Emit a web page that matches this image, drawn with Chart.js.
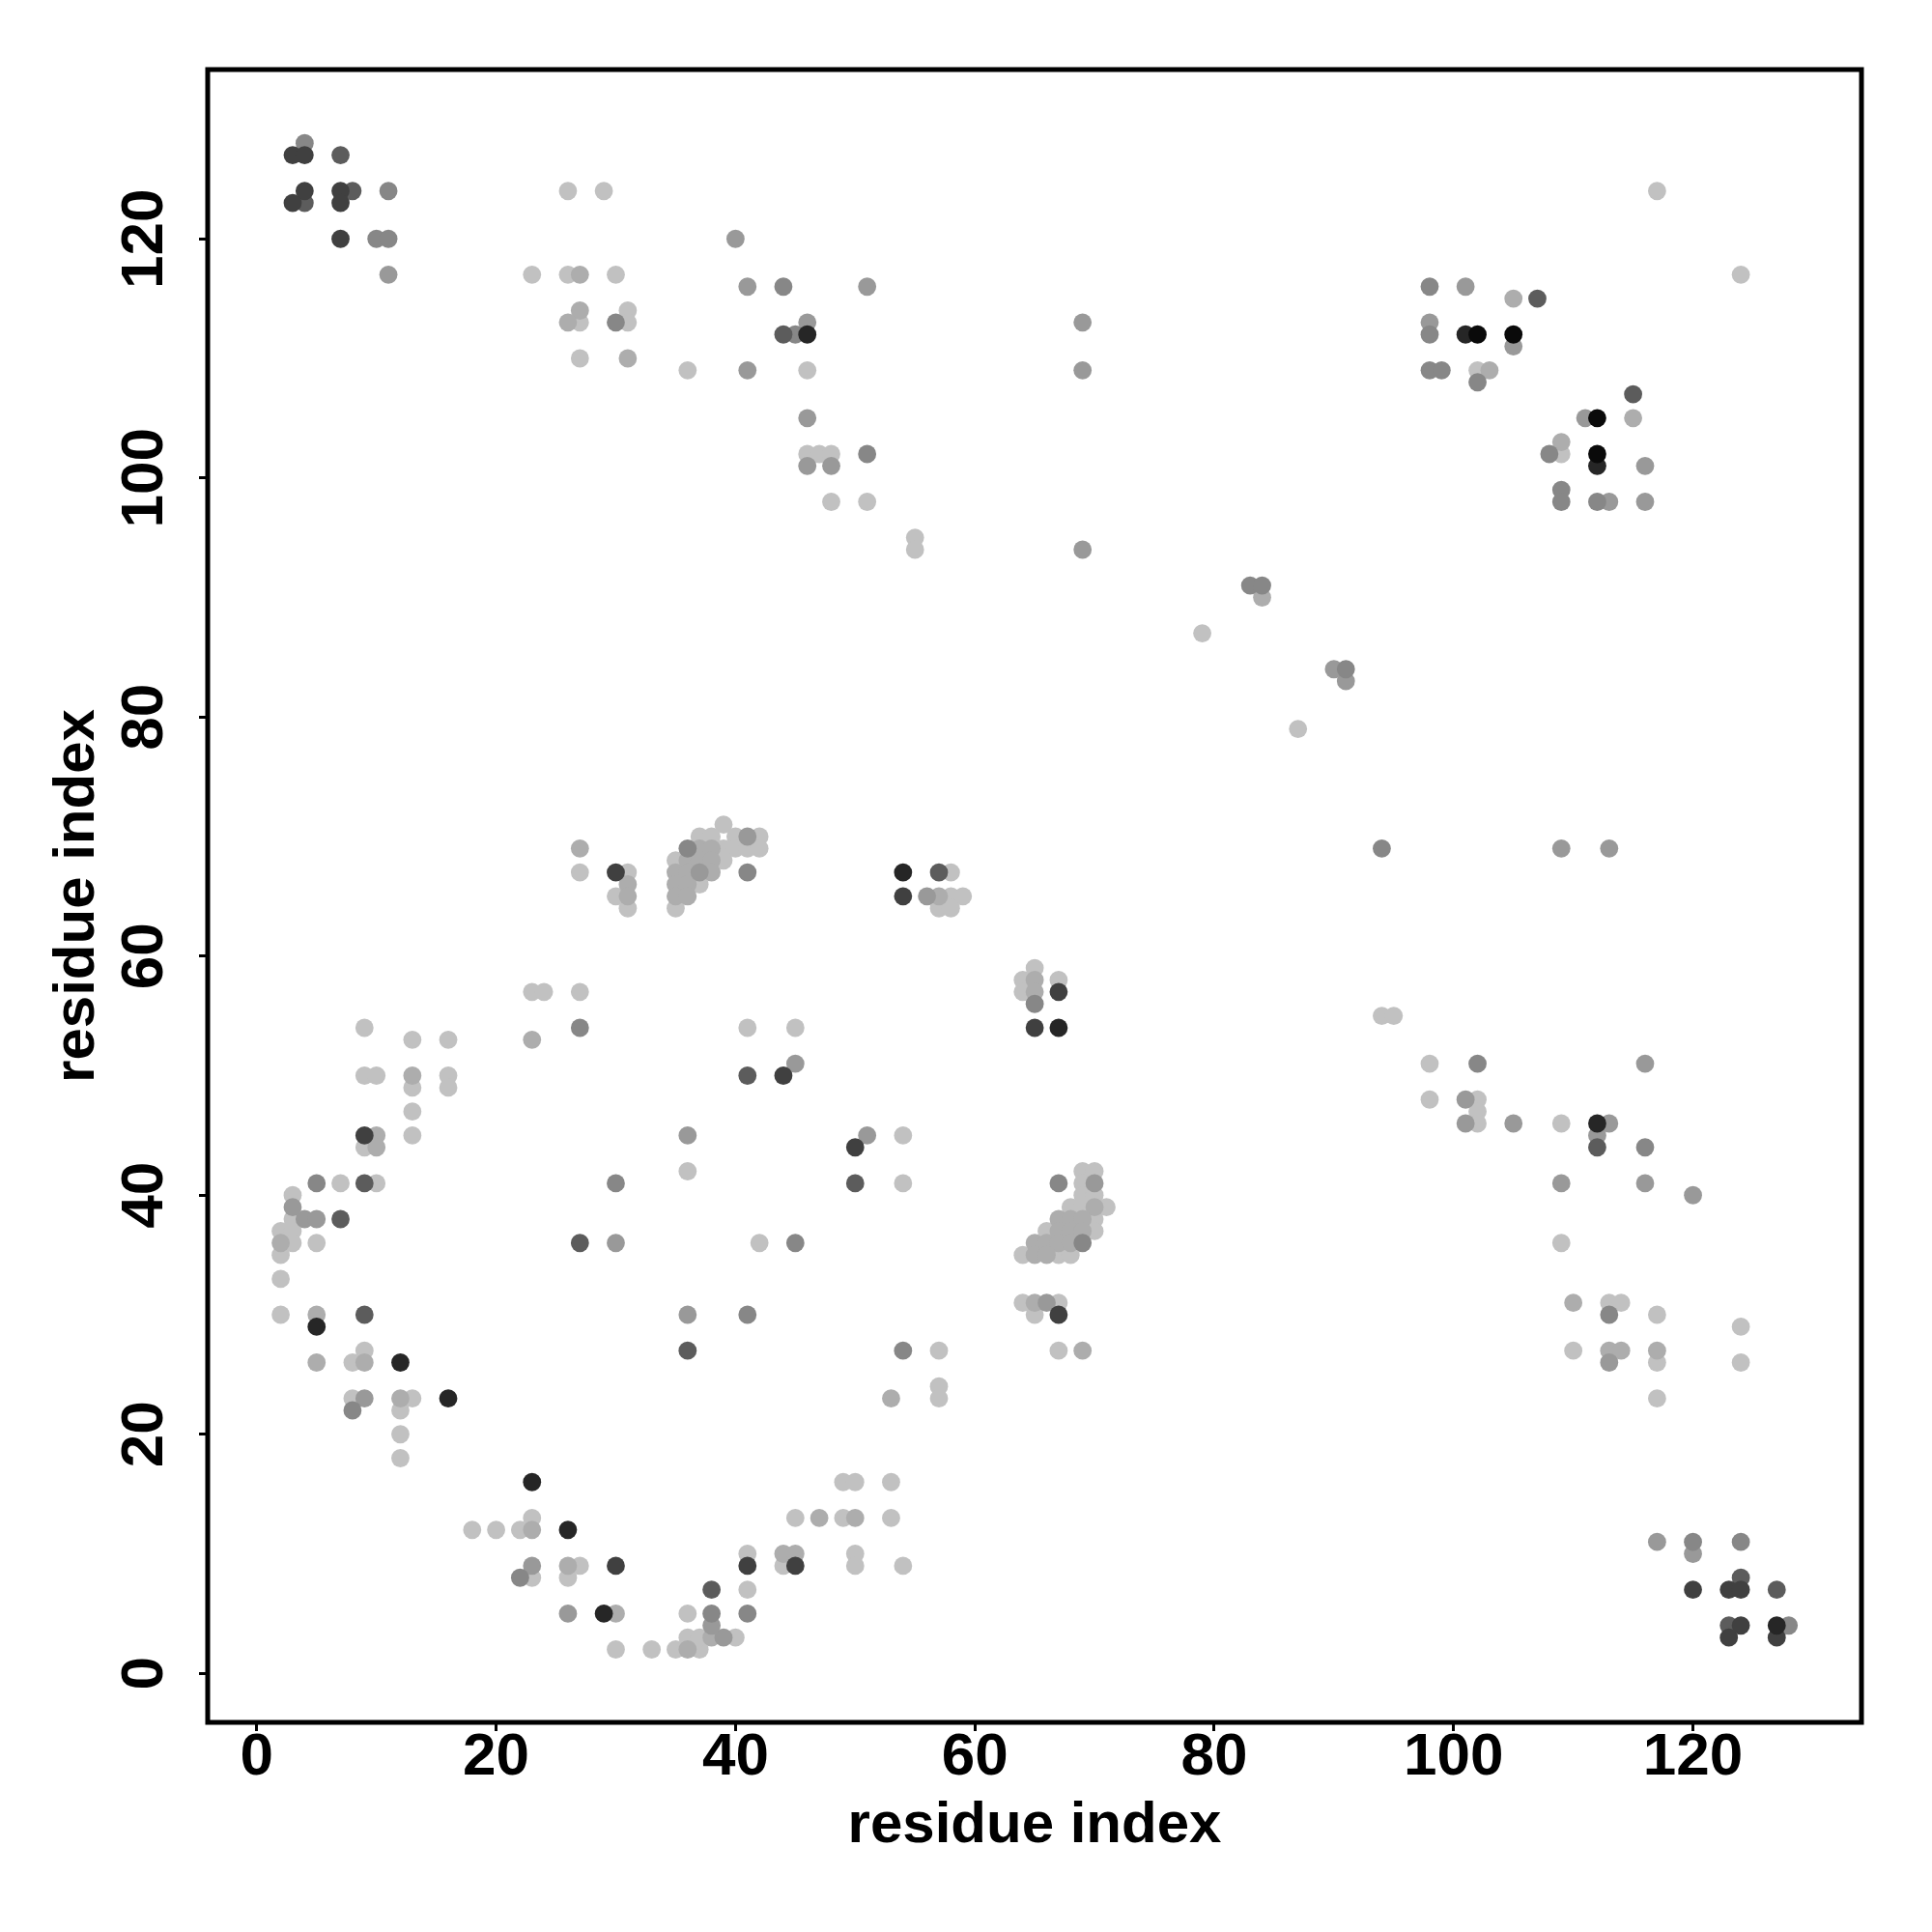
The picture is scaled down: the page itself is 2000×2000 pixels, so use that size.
<!DOCTYPE html>
<html>
<head>
<meta charset="utf-8">
<script src="https://cdn.jsdelivr.net/npm/chart.js@4.4.1/dist/chart.umd.min.js"></script>
<style>
  html, body { margin: 0; padding: 0; background: #fff; }
</style>
</head>
<body>
<canvas id="contactMap" width="2000" height="2000"></canvas>
<script>
// residue contact map, points grouped by grey level (darkest first)
var tickValues = [0, 20, 40, 60, 80, 100, 120];
var axisTitle = "residue index";

var black = [[102,112],[105,112],[112,105],[112,102]];
var veryDark = [[46,112],[101,112],[112,101],[54,67],[67,54],[112,46],[127,4],
  [5,29],[12,26],[16,23],[23,16],[26,12],[29,5]];
var dark = [[3,127],[4,127],[4,124],[3,123],[7,124],[7,123],[7,120],
  [30,67],[9,45],[54,65],[67,57],[65,54],[44,50],[50,44],
  [120,7],[123,7],[124,7],[124,4],[123,3],[127,3],
  [30,9],[41,9],[67,30],[45,9]];
var darkGray = [[7,127],[4,123],[8,124],[44,112],[107,115],[115,107],
  [41,50],[57,67],[50,41],[112,44],[124,8],[127,7],[123,4],
  [9,41],[7,38],[9,30],[27,36],[36,27],[38,7]];
var gray = [[4,128],[11,124],[10,120],[11,120],[30,113],
  [44,116],[45,112],[51,102],[83,91],[84,91],
  [98,116],[98,112],[98,109],[99,109],[102,108],[108,102],[109,99],[109,98],[112,98],
  [91,84],[94,69],[41,67],[27,54],[30,41],[36,69],
  [65,56],[102,51],[116,44],[113,30],[120,11],[124,11],[128,4],
  [5,41],[41,30],[8,22],[22,8],[38,5],[41,5],[45,36],[54,27],[67,41],[69,36]];
var midGray = [[11,117],[40,120],[41,116],[41,109],
  [51,116],[46,113],[69,113],[69,109],[46,105],[46,101],[48,101],[69,94],
  [101,116],[98,113],[105,111],[111,105],[116,101],[113,98],[116,98],
  [90,84],[91,83],[109,69],[113,69],[41,70],[36,45],[37,67],
  [56,65],[45,51],[51,45],
  [116,51],[101,48],[101,46],[105,46],[113,46],[112,45],[109,41],[116,41],[120,40],
  [113,26],[117,11],[120,10],
  [3,39],[4,38],[5,38],[30,36],[36,30],[9,23],[23,9],[26,5],[39,3],[38,4],
  [66,31],[70,41]];
var lightGray = [[27,117],[27,114],[26,113],[31,110],[84,90],[105,115],[103,109],[115,105],[109,103],
  [27,69],[31,66],[31,65],[23,53],[13,50],[10,45],[10,44],
  [37,69],[38,69],[36,68],[37,68],[38,68],[35,67],[36,67],[38,67],[35,66],[36,66],[35,65],[36,65],
  [57,65],[65,58],[65,57],[110,31],[113,27],[114,27],[117,27],
  [2,36],[5,30],[5,26],[9,26],[12,23],[23,12],[26,9],[30,5],[36,2],[38,3],
  [65,31],[69,27],[53,23],[47,13],[50,13],[44,10],[45,10],
  [70,39],[67,38],[68,38],[69,38],[67,37],[68,37],[69,37],[65,36],[66,36],[67,36],[68,36],[65,35],[66,35]];
var light = [[26,124],[29,124],[23,117],[26,117],[30,117],[27,113],[31,114],[31,113],[27,110],[36,109],
  [46,109],[46,102],[47,102],[48,102],[48,98],[51,98],[55,95],[55,94],[79,87],
  [117,124],[124,117],[102,109],[109,102],[87,79],[94,55],[95,55],
  [27,67],[31,67],[30,65],[31,64],[23,57],[24,57],[27,57],[9,54],[13,53],[16,53],[41,54],
  [9,50],[10,50],[13,49],[16,50],[16,49],[13,47],[13,45],[9,44],[36,42],
  [39,71],[37,70],[38,70],[40,70],[42,70],[39,69],[40,69],[41,69],[42,69],[35,68],[39,68],[37,66],[35,64],
  [58,67],[58,65],[59,65],[57,64],[58,64],[65,59],[64,58],[67,58],[64,57],[45,54],[54,45],[54,41],
  [98,51],[98,48],[102,48],[102,47],[102,46],[109,46],
  [109,36],[113,31],[114,31],[117,30],[124,29],[110,27],[117,26],[124,26],[117,23],
  [7,41],[10,41],[3,40],[2,37],[3,38],[3,37],[3,36],[5,36],[2,35],[2,33],[2,30],[42,36],
  [8,26],[9,27],[8,23],[13,23],[12,22],[12,20],[12,18],[23,13],[18,12],[20,12],[22,12],[23,8],
  [27,9],[26,8],[30,2],[33,2],[35,2],[37,2],[36,3],[37,3],[40,3],[36,5],[41,7],[41,10],
  [64,31],[67,31],[65,30],[57,27],[67,27],[57,24],[57,23],[49,16],[50,16],[53,16],
  [45,13],[49,13],[53,13],[44,9],[50,10],[50,9],[54,9],
  [69,42],[70,42],[69,41],[69,40],[70,40],[68,39],[69,39],[71,39],[70,38],[66,37],[70,37],
  [64,35],[67,35],[68,35]];

var shadeGroups = [black, veryDark, dark, darkGray, gray, midGray, lightGray, light];
var shadeColors = ["#0a0a0a", "#262626", "#404040", "#5c5c5c", "#878787", "#999999", "#adadad", "#c1c1c1"];

var tickFont = { family: "'Liberation Sans', Arial, sans-serif", size: 62, weight: "bold" };
var titleFont = { family: "'Liberation Sans', Arial, sans-serif", size: 60, weight: "bold" };

// plot frame (R style box round the panel)
var boxPlugin = {
  id: "frameBox",
  afterDatasetsDraw: function (chart) {
    var a = chart.chartArea, c = chart.ctx;
    c.save();
    c.strokeStyle = "#000";
    c.lineWidth = 5;
    c.strokeRect(a.left, a.top, a.right - a.left, a.bottom - a.top);
    c.restore();
  }
};

var datasets = shadeGroups.map(function (pts, i) {
  return {
    data: pts.map(function (p) { return { x: p[0], y: p[1] }; }),
    backgroundColor: shadeColors[i],
    pointRadius: 9.4,
    pointBorderWidth: 0,
    pointHoverRadius: 9.4,
    showLine: false
  };
});

function fixedTicks(scale) {
  scale.ticks = tickValues.map(function (v) { return { value: v }; });
}

new Chart(document.getElementById("contactMap"), {
  type: "scatter",
  data: { datasets: datasets },
  options: {
    responsive: false,
    animation: false,
    devicePixelRatio: 1,
    layout: { padding: { left: 0, top: 72, right: 73, bottom: 0 } },
    plugins: { legend: { display: false }, tooltip: { enabled: false } },
    scales: {
      x: {
        type: "linear",
        min: -4.1,
        max: 134.08,
        afterBuildTicks: fixedTicks,
        afterFit: function (s) { s.height = 217; },
        border: { display: false },
        grid: { drawOnChartArea: false, drawTicks: true, tickLength: 9, color: "#000", lineWidth: 3 },
        ticks: { font: tickFont, color: "#000", padding: -9, autoSkip: false, maxRotation: 0, minRotation: 0 },
        title: { display: true, text: axisTitle, font: titleFont, color: "#000", padding: { top: 0, bottom: 74 } }
      },
      y: {
        type: "linear",
        min: -4.1,
        max: 134.16,
        afterBuildTicks: fixedTicks,
        afterFit: function (s) { s.width = 215; },
        border: { display: false },
        grid: { drawOnChartArea: false, drawTicks: true, tickLength: 9, color: "#000", lineWidth: 3 },
        ticks: { font: tickFont, color: "#000", padding: 3, autoSkip: false, minRotation: 90, maxRotation: 90, crossAlign: "center" },
        title: { display: true, text: axisTitle, font: titleFont, color: "#000", padding: { top: 44, bottom: 0 } }
      }
    }
  },
  plugins: [boxPlugin]
});
</script>
</body>
</html>
